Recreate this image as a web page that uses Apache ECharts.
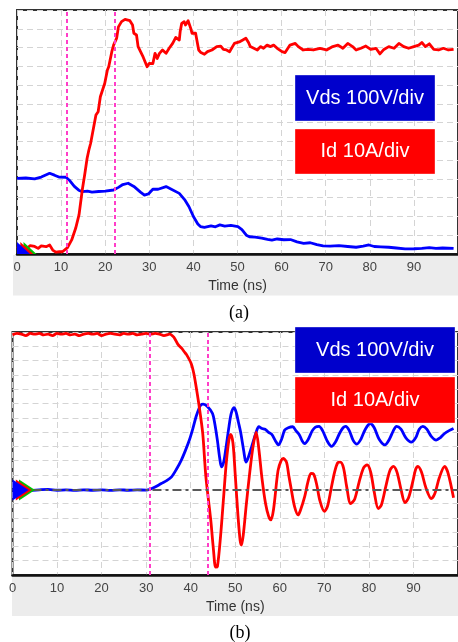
<!DOCTYPE html>
<html>
<head>
<meta charset="utf-8">
<script src="https://cdn.jsdelivr.net/npm/echarts@6/dist/echarts.min.js"></script>
<style>
  html, body { margin: 0; padding: 0; background: #fff; }
  #chart { width: 458px; height: 642px; }
</style>
</head>
<body>
<div id="chart"></div>
<script>
// ---- (a) turn-on transient: [time ns, divisions] ----
const idTurnOn = [
  [0.0,0.30],[1.0,0.40],[2.0,0.25],[3.0,0.45],[4.0,0.40],[4.8,0.30],[5.5,0.43],[6.6,0.39],[7.4,0.48],[8.1,0.21],
  [8.8,0.10],[9.6,0.12],[10.3,0.12],[11.45,0.34],[12.4,0.75],[13.3,1.37],[14.06,2.08],[14.8,3.41],[15.4,4.30],[15.9,5.10],
  [16.3,5.54],[16.7,5.90],[17.4,6.78],[17.9,7.40],[18.4,7.58],[18.9,8.38],[19.9,9.10],[20.5,9.80],[20.8,9.98],[21.5,10.78],
  [21.9,11.13],[22.6,11.50],[23.0,12.10],[23.7,12.38],[24.5,12.50],[25.6,12.43],[26.2,12.20],[26.5,11.76],[27.1,11.67],[27.46,11.05],
  [28.6,10.50],[29.5,9.98],[30.0,10.16],[30.8,10.14],[31.3,10.69],[31.8,10.42],[32.3,10.69],[33.0,10.87],[33.8,10.69],[34.5,10.96],
  [35.3,11.22],[36.0,11.54],[36.8,11.40],[37.0,11.85],[37.35,12.29],[37.9,12.38],[38.2,12.20],[38.8,12.43],[39.4,12.02],[39.7,11.76],
  [40.5,11.76],[41.2,10.87],[41.7,10.73],[42.5,10.64],[43.2,10.78],[44.2,10.87],[45.3,11.05],[46.2,11.08],[46.8,10.90],[47.5,10.87],
  [48.2,10.78],[49.3,11.22],[50.4,11.30],[51.2,11.40],[51.9,11.50],[52.5,11.27],[52.9,11.05],[53.7,10.96],[54.5,10.87],[55.2,11.05],
  [55.9,10.96],[56.7,11.13],[57.5,11.05],[58.2,11.13],[59.0,10.96],[60.1,10.78],[60.8,10.73],[61.9,11.13],[63.1,11.22],[63.8,11.05],
  [64.9,10.87],[66.0,10.90],[67.2,10.87],[68.7,10.96],[70.2,10.87],[71.6,11.05],[72.8,11.13],[73.9,10.96],[75.0,11.22],[76.1,11.05],
  [76.9,10.87],[78.0,10.96],[79.1,11.08],[80.2,10.90],[81.4,10.96],[82.3,10.66],[83.2,10.90],[84.3,11.05],[85.5,10.96],[86.6,11.22],
  [87.7,11.05],[88.8,10.96],[90.0,11.05],[91.1,11.13],[91.8,11.27],[92.6,11.05],[93.5,11.20],[94.5,10.90],[95.6,10.87],[96.7,10.96],
  [97.8,10.87],[99.0,10.90]
];
const vdsTurnOn = [
  [0.0,4.03],[2.0,4.05],[4.0,4.00],[5.5,4.10],[7.4,4.30],[8.5,4.20],[9.5,4.10],[11.1,4.09],[12.0,3.90],[13.0,3.60],
  [14.0,3.40],[14.8,3.32],[16.0,3.35],[17.0,3.30],[18.5,3.33],[20.0,3.35],[21.9,3.41],[23.0,3.55],[24.0,3.70],[25.2,3.77],
  [26.5,3.60],[28.0,3.30],[28.9,3.14],[29.8,3.20],[30.8,3.45],[32.0,3.45],[33.8,3.59],[35.0,3.45],[36.8,3.23],[38.0,2.90],
  [39.0,2.52],[40.0,2.00],[41.0,1.60],[41.6,1.46],[42.5,1.42],[44.0,1.50],[45.0,1.45],[46.0,1.55],[47.1,1.49],[48.5,1.52],
  [50.1,1.46],[51.0,1.30],[52.0,1.00],[52.7,0.92],[54.0,0.90],[55.5,0.85],[56.8,0.78],[57.8,0.74],[59.0,0.80],[60.5,0.76],
  [62.0,0.77],[63.5,0.65],[65.0,0.57],[66.5,0.60],[68.0,0.50],[69.4,0.43],[71.0,0.42],[73.0,0.45],[75.0,0.40],[76.9,0.36],
  [78.5,0.42],[79.8,0.48],[81.0,0.40],[82.5,0.38],[84.3,0.36],[86.0,0.32],[88.0,0.27],[90.0,0.28],[91.8,0.30],[93.5,0.34],
  [95.0,0.30],[96.5,0.32],[99.0,0.30]
];
const cursorsTurnOn = [11.2, 22.1];
const zeroTurnOn = 0;

// ---- (b) turn-off transient: [time ns, divisions] ----
const idTurnOff = [
  [0,16.80],[1,16.90],[2,16.85],[3,16.75],[4,16.90],[5,16.85],[6,16.90],[7,16.80],[8,16.85],[9,16.75],
  [10,16.90],[11,16.85],[12,16.90],[13,16.80],[14,16.85],[15,16.75],[16,16.85],[17,16.90],[18,16.85],[19,16.90],
  [20,16.75],[21,16.85],[22,16.90],[23,16.85],[24,16.80],[25,16.90],[26,16.85],[27,16.90],[28,16.80],[29,16.85],
  [30,16.90],[31,16.85],[32,16.90],[33,16.85],[34,16.75],[35.3,16.85],[36.0,16.70],[36.4,16.55],[37.1,16.15],[38.0,15.85],
  [38.6,15.60],[39.1,15.40],[40.1,14.80],[40.7,14.10],[41.2,13.20],[41.9,11.80],[42.7,9.90],[43.4,6.90],[44.5,3.85],[45.1,1.80],
  [45.6,0.55],[46.0,0.60],[46.7,2.70],[47.4,5.50],[48.0,7.90],[48.6,9.50],[49.0,9.84],[49.5,9.20],[50.0,7.00],[50.6,4.20],
  [51.1,2.40],[51.4,2.10],[51.8,2.80],[52.5,5.00],[53.3,7.30],[54.0,9.00],[54.7,10.00],[55.3,8.80],[56.0,6.76],[56.8,5.00],
  [57.5,4.10],[58.0,3.85],[58.6,4.60],[59.6,7.30],[60.3,8.00],[60.8,8.15],[61.5,7.90],[62.0,7.00],[62.6,5.94],[63.3,4.80],
  [64.1,4.20],[64.6,4.50],[65.6,5.50],[66.3,6.50],[67.0,7.10],[67.6,7.05],[68.3,6.30],[69.0,5.20],[70.0,4.45],[70.7,4.80],
  [71.5,6.00],[72.3,7.20],[73.0,7.85],[73.6,7.90],[74.3,7.50],[75.0,6.20],[75.9,5.00],[76.8,5.30],[77.8,6.50],[78.8,7.50],
  [79.6,7.70],[80.4,7.20],[81.2,5.80],[82.1,4.65],[82.8,4.90],[83.8,6.20],[84.7,7.30],[85.5,7.60],[86.3,7.20],[87.2,6.00],
  [88.1,5.07],[88.9,5.40],[89.9,6.60],[90.5,7.40],[91.0,7.60],[91.8,7.20],[92.8,6.10],[94.0,5.35],[94.8,5.70],[95.8,6.80],
  [97.0,7.60],[97.8,7.10],[99.0,5.40]
];
const vdsTurnOff = [
  [0,5.94],[2,5.97],[4,5.92],[6,5.96],[8,5.99],[10,5.93],[12,5.95],[14,5.92],[16,5.96],[18,5.93],
  [20,5.95],[22,5.92],[24,5.96],[26,5.93],[28,5.95],[30,5.94],[30.9,6.00],[32.0,6.15],[33.4,6.40],[34.6,6.60],
  [35.7,6.87],[36.8,7.40],[37.9,8.04],[38.8,8.70],[39.7,9.44],[40.5,10.26],[41.2,11.07],[41.8,11.60],[42.3,11.90],[42.8,11.95],
  [43.8,11.77],[44.9,11.30],[45.4,10.60],[46.0,9.40],[46.5,8.20],[46.9,7.57],[47.4,7.90],[47.9,8.86],[48.6,10.40],[49.1,11.30],
  [49.7,11.70],[50.2,11.40],[50.7,10.70],[51.2,10.00],[51.9,8.70],[52.4,7.90],[52.9,8.20],[53.8,9.10],[54.6,9.90],[55.3,10.37],
  [56.0,10.25],[56.7,10.20],[57.4,10.00],[58.2,9.84],[59.0,9.40],[59.7,9.10],[60.4,9.50],[61.1,10.14],[61.9,10.30],[62.9,10.37],
  [63.6,10.10],[64.4,9.80],[65.0,9.40],[65.6,9.20],[66.4,9.50],[67.3,10.10],[68.0,10.35],[68.8,10.40],[69.6,10.10],[70.6,9.40],
  [71.6,9.00],[72.5,9.30],[73.4,9.90],[74.2,10.30],[74.8,10.40],[75.6,10.10],[76.5,9.40],[77.3,9.16],[78.2,9.50],[79.2,10.20],
  [80.3,10.60],[81.2,10.30],[82.3,9.50],[83.6,9.10],[84.6,9.50],[85.5,10.10],[86.2,10.40],[87.2,10.20],[88.3,9.60],[89.5,9.30],
  [90.5,9.60],[91.3,10.20],[92.1,10.40],[93.0,10.20],[94.0,9.70],[95.1,9.44],[96.0,9.60],[97.0,9.90],[98.0,10.10],[99.0,10.25]
];
const cursorsTurnOff = [30.9, 43.9];
const zeroTurnOff = 5.94;

const scaleLabels = ['Vds 100V/div', 'Id 10A/div'];
const captions = ['(a)', '(b)'];
const axisTitle = 'Time (ns)';

const BLUE = '#0000ff', RED = '#ff0000', GREEN = '#00c000', PINK = '#ff3ec8';
const SANS = '"Liberation Sans", Arial, sans-serif';
const SERIF = '"Liberation Serif", "Times New Roman", serif';

const chart = echarts.init(document.getElementById('chart'), null, { renderer: 'canvas' });

function xAxisFor(gridIndex) {
  return {
    gridIndex, type: 'value', min: 0, max: 100, interval: 10,
    name: axisTitle, nameLocation: 'middle', nameGap: 25,
    nameTextStyle: { fontSize: 14, color: '#333', fontFamily: SANS },
    axisLine: { show: true, onZero: false, lineStyle: { color: '#111', width: 2.5 } },
    axisTick: { show: false },
    axisLabel: { margin: 7, fontSize: 13, color: '#444', fontFamily: SANS, showMaxLabel: false },
    splitLine: { show: true, lineStyle: { color: '#d4d4d4', width: 1, type: [6, 4] } }
  };
}
function yAxisFor(gridIndex, divs) {
  return {
    gridIndex, type: 'value', min: 0, max: divs, interval: 1,
    axisLine: { show: false }, axisTick: { show: false }, axisLabel: { show: false },
    splitLine: { show: true, lineStyle: { color: '#d4d4d4', width: 1, type: [6, 4] } }
  };
}

// channel reference arrows at the left edge of each panel
function refMarkers(idx, zero, full) {
  const colors = [GREEN, RED, BLUE];
  const shift = [6.5, 3.3, 0];
  return colors.map((c, k) => ({
    type: 'scatter', xAxisIndex: idx, yAxisIndex: idx, z: 6, silent: true, clip: false,
    data: [[0, zero]],
    symbol: full ? 'path://M0,0L1,0.5L0,1Z' : 'path://M0,0L1,1L0,1Z',
    symbolSize: full ? [16, 21] : [13, 12],
    symbolOffset: full ? [8 + shift[k], 0] : [6.5 + shift[k], -6],
    itemStyle: { color: c, opacity: 1 }
  }));
}

function guides(idx, cursors, baseline) {
  const data = cursors.map(t => ({ xAxis: t, lineStyle: { color: PINK, width: 2, type: [4, 3] } }));
  if (baseline !== null) {
    data.push({ yAxis: baseline, lineStyle: { color: '#5a5a5a', width: 2.2, type: [9, 4, 3, 4] } });
  }
  return {
    type: 'line', xAxisIndex: idx, yAxisIndex: idx, z: 1, data: [], silent: true,
    markLine: { silent: true, symbol: 'none', label: { show: false }, animation: false, data }
  };
}

function trace(idx, data, color, smooth) {
  return {
    type: 'line', xAxisIndex: idx, yAxisIndex: idx, z: color === RED ? 4 : 3,
    data, showSymbol: false, symbol: 'none', smooth, silent: true,
    lineStyle: { color, width: 2.8, join: 'round' }
  };
}

function scaleBox(x, y, w, h, fill, text) {
  return {
    type: 'group', z: 50, children: [
      { type: 'rect', z: 50, shape: { x, y, width: w, height: h },
        style: { fill, stroke: 'rgba(255,255,255,0.35)', lineWidth: 1 } },
      { type: 'text', z: 51, x: x + w / 2, y: y + h / 2,
        style: { text, fill: '#fff', fontSize: 20, fontFamily: SANS, align: 'center', verticalAlign: 'middle' } }
    ]
  };
}

const option = {
  animation: false,
  backgroundColor: '#fff',
  grid: [
    { left: 17, top: 10, width: 448, height: 244, show: true, backgroundColor: '#fff', borderColor: '#333', borderWidth: 2 },
    { left: 12.5, top: 332, width: 451, height: 243, show: true, backgroundColor: '#fff', borderColor: '#333', borderWidth: 2 }
  ],
  xAxis: [xAxisFor(0), xAxisFor(1)],
  yAxis: [yAxisFor(0, 13), yAxisFor(1, 17)],
  series: [
    guides(0, cursorsTurnOn, null),
    trace(0, vdsTurnOn, BLUE, false),
    trace(0, idTurnOn, RED, false),
    ...refMarkers(0, zeroTurnOn, false),
    guides(1, cursorsTurnOff, zeroTurnOff),
    trace(1, vdsTurnOff, BLUE, 0.3),
    trace(1, idTurnOff, RED, 0.3),
    ...refMarkers(1, zeroTurnOff, true)
  ],
  graphic: [
    { type: 'rect', z: -1, shape: { x: 13, y: 255, width: 445, height: 40.5 }, style: { fill: '#ececec' } },
    { type: 'rect', z: -1, shape: { x: 12, y: 576, width: 446, height: 40 }, style: { fill: '#ececec' } },
    scaleBox(295, 75, 140, 46, '#0000cc', scaleLabels[0]),
    scaleBox(295, 129, 140, 45, '#ff0000', scaleLabels[1]),
    scaleBox(295, 327, 160, 46, '#0000cc', scaleLabels[0]),
    scaleBox(295, 377, 160, 46, '#ff0000', scaleLabels[1]),
    { type: 'text', x: 239, y: 313, z: 20,
      style: { text: captions[0], fill: '#000', fontSize: 18, fontFamily: SERIF, align: 'center', verticalAlign: 'middle' } },
    { type: 'text', x: 240, y: 633, z: 20,
      style: { text: captions[1], fill: '#000', fontSize: 18, fontFamily: SERIF, align: 'center', verticalAlign: 'middle' } }
  ]
};

chart.setOption(option);
</script>
</body>
</html>
